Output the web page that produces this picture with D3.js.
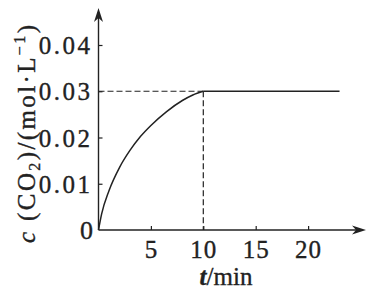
<!DOCTYPE html>
<html><head><meta charset="utf-8">
<script src="https://cdn.jsdelivr.net/npm/d3@7"></script>
<style>
html,body{margin:0;padding:0;background:#fff;}
svg{display:block;}
</style></head>
<body>
<svg id="c" width="367" height="290"></svg>
<script>
// data
const timeMin = [0, 0.3, 1, 2, 3, 4, 5, 6.5, 8, 9, 10];
const co2Conc = [0, 0.0035, 0.0085, 0.0135, 0.0172, 0.0202, 0.0226, 0.0256, 0.028, 0.0292, 0.03];
const plateauTime = [10, 23];
const plateauConc = [0.03, 0.03];
const xTicks = [5, 10, 15, 20];
const yTicks = [0.01, 0.02, 0.03, 0.04];
const yTickLabels = ["0.01", "0.02", "0.03", "0.04"];

const svg = d3.select("#c");
const ink = "#222";
const x = d3.scaleLinear().domain([0, 25]).range([98.5, 360.5]);
const y = d3.scaleLinear().domain([0, 0.04]).range([230, 45]);

// axes lines with arrows
svg.append("line").attr("x1", x(0)).attr("x2", 360).attr("y1", y(0)).attr("y2", y(0))
  .attr("stroke", ink).attr("stroke-width", 1.4);
svg.append("line").attr("x1", x(0)).attr("x2", x(0)).attr("y1", y(0)).attr("y2", 14)
  .attr("stroke", ink).attr("stroke-width", 1.4);
const ax = 366, ay = y(0);
svg.append("path").attr("d", `M${ax},${ay} L${ax-14},${ay-4.5} L${ax-10},${ay} L${ax-14},${ay+4.5} Z`).attr("fill", ink);
const bx = x(0), by = 8;
svg.append("path").attr("d", `M${bx},${by} L${bx-4.5},${by+14} L${bx},${by+10} L${bx+4.5},${by+14} Z`).attr("fill", ink);

// x axis ticks and labels
const xa = svg.append("g").attr("transform", `translate(0,${y(0)})`)
  .call(d3.axisBottom(x).tickValues(xTicks).tickSize(-4).tickPadding(10).tickFormat(d3.format("d")));
xa.select(".domain").remove();
xa.selectAll(".tick line").attr("stroke", ink).attr("stroke-width", 1.2);
xa.selectAll(".tick text").attr("font-size", 25).attr("dy", "0.71em").attr("letter-spacing", 1);

// y axis ticks and labels
const ya = svg.append("g").attr("transform", `translate(${x(0)},0)`)
  .call(d3.axisLeft(y).tickValues(yTicks).tickSize(-4).tickPadding(6).tickFormat((d, i) => yTickLabels[i]));
ya.select(".domain").remove();
ya.selectAll(".tick line").attr("stroke", ink).attr("stroke-width", 1.2);
ya.selectAll(".tick text").attr("font-size", 25).attr("letter-spacing", 2.5).attr("dy", "0.34em");

// origin label
svg.append("text").attr("x", 93).attr("y", y(0)).attr("dy", "0.36em").attr("text-anchor", "end")
  .attr("font-size", 26).text("0");

// dashed guides
svg.append("line").attr("x1", x(0)).attr("x2", x(10)).attr("y1", y(0.03)).attr("y2", y(0.03))
  .attr("stroke", ink).attr("stroke-width", 1.2).attr("stroke-dasharray", "6,3");
svg.append("line").attr("x1", x(10)).attr("x2", x(10)).attr("y1", y(0.03)).attr("y2", y(0))
  .attr("stroke", ink).attr("stroke-width", 1.2).attr("stroke-dasharray", "6,3");

// curve
const line = d3.line().x(d => x(d[0])).y(d => y(d[1])).curve(d3.curveMonotoneX);
svg.append("path").datum(timeMin.map((t, i) => [t, co2Conc[i]])).attr("d", line)
  .attr("fill", "none").attr("stroke", ink).attr("stroke-width", 1.5);
svg.append("path").datum(plateauTime.map((t, i) => [t, plateauConc[i]])).attr("d", line)
  .attr("fill", "none").attr("stroke", ink).attr("stroke-width", 1.5);

// x axis title
const xt = svg.append("text").attr("x", 226).attr("y", 285).attr("text-anchor", "middle").attr("font-size", 25);
xt.append("tspan").attr("font-style", "italic").attr("font-weight", "bold").text("t");
xt.append("tspan").text("/min");

// y axis title
const yt = svg.append("text").attr("transform", "translate(35,134) rotate(-90)")
  .attr("text-anchor", "middle").attr("font-size", 25)
  .attr("textLength", 218).attr("lengthAdjust", "spacing");
yt.append("tspan").attr("font-style", "italic").text("c");
yt.append("tspan").text(" (CO");
yt.append("tspan").attr("font-size", 16).attr("dy", 5).text("2");
yt.append("tspan").attr("dy", -5).text(")/(mol·L");
yt.append("tspan").attr("font-size", 16).attr("dy", -10).text("−1");
yt.append("tspan").attr("dy", 10).text(")");

// serif font on every text, slightly heavier like the printed original
svg.selectAll("text").style("font-family", '"Liberation Serif"').style("fill", ink)
  .style("stroke", ink).style("stroke-width", 0.35);
</script>
</body></html>
